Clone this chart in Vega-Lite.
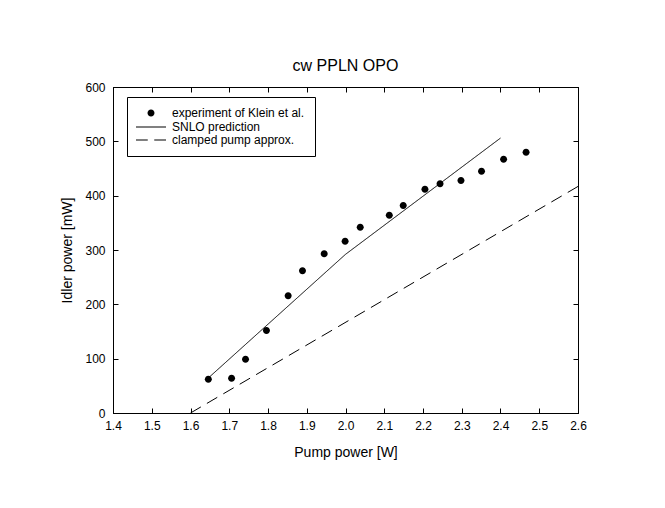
{
  "$schema": "https://vega.github.io/schema/vega-lite/v6.json",
  "width": 465,
  "height": 326,
  "autosize": "none",
  "padding": {"left": 113, "top": 87, "right": 87, "bottom": 95},
  "background": "white",
  "title": {"text": "cw PPLN OPO", "fontSize": 16, "font": "Liberation Sans", "fontWeight": "normal", "color": "black", "offset": 7, "anchor": "middle"},
  "config": {
    "view": {"stroke": "black", "strokeWidth": 1},
    "axis": {"domainColor": "black", "tickColor": "black", "labelColor": "black", "titleColor": "black", "labelFont": "Liberation Sans", "titleFont": "Liberation Sans", "labelFontSize": 12, "titleFontSize": 14, "titleFontWeight": "normal", "grid": false, "tickSize": -5, "labelFlush": false, "labelOverlap": false}
  },
  "data": {"values": [
    {"series": "experiment of Klein et al.", "pump": 1.646, "idler": 62},
    {"series": "experiment of Klein et al.", "pump": 1.706, "idler": 64},
    {"series": "experiment of Klein et al.", "pump": 1.742, "idler": 99},
    {"series": "experiment of Klein et al.", "pump": 1.796, "idler": 152},
    {"series": "experiment of Klein et al.", "pump": 1.852, "idler": 216},
    {"series": "experiment of Klein et al.", "pump": 1.889, "idler": 262},
    {"series": "experiment of Klein et al.", "pump": 1.945, "idler": 293},
    {"series": "experiment of Klein et al.", "pump": 1.999, "idler": 316},
    {"series": "experiment of Klein et al.", "pump": 2.038, "idler": 342},
    {"series": "experiment of Klein et al.", "pump": 2.113, "idler": 364},
    {"series": "experiment of Klein et al.", "pump": 2.149, "idler": 382},
    {"series": "experiment of Klein et al.", "pump": 2.205, "idler": 412},
    {"series": "experiment of Klein et al.", "pump": 2.244, "idler": 422},
    {"series": "experiment of Klein et al.", "pump": 2.298, "idler": 428},
    {"series": "experiment of Klein et al.", "pump": 2.351, "idler": 445},
    {"series": "experiment of Klein et al.", "pump": 2.408, "idler": 467},
    {"series": "experiment of Klein et al.", "pump": 2.466, "idler": 480},
    {"series": "SNLO prediction", "pump": 1.65, "idler": 67},
    {"series": "SNLO prediction", "pump": 2.0, "idler": 292},
    {"series": "SNLO prediction", "pump": 2.4, "idler": 506},
    {"series": "clamped pump approx.", "pump": 1.6, "idler": 0},
    {"series": "clamped pump approx.", "pump": 2.6, "idler": 417}
  ]},
  "layer": [
    {
      "transform": [{"filter": "datum.series === 'experiment of Klein et al.'"}],
      "mark": {"type": "point", "filled": true, "size": 100, "opacity": 1, "color": "black"},
      "encoding": {
        "x": {"field": "pump", "type": "quantitative", "scale": {"domain": [1.4, 2.6], "nice": false},
              "axis": {"orient": "bottom", "title": "Pump power [W]", "values": [1.4, 1.5, 1.6, 1.7, 1.8, 1.9, 2.0, 2.1, 2.2, 2.3, 2.4, 2.5, 2.6], "format": ".1f", "labelPadding": 12, "titlePadding": 14}},
        "y": {"field": "idler", "type": "quantitative", "scale": {"domain": [0, 600], "nice": false},
              "axis": {"orient": "left", "title": "Idler power [mW]", "values": [0, 100, 200, 300, 400, 500, 600], "labelPadding": 13, "titlePadding": 10}},
        "shape": {"field": "series", "type": "nominal",
                  "scale": {"domain": ["experiment of Klein et al.", "SNLO prediction", "clamped pump approx."],
                            "range": ["M-0.7,0A0.7,0.7,0,1,0,0.7,0A0.7,0.7,0,1,0,-0.7,0Z", "M-3,-0.1H3V0.1H-3Z", "M-3,-0.1H-0.65V0.1H-3ZM0.65,-0.1H3V0.1H0.65Z"]},
                  "legend": {
                    "title": null, "orient": "none", "legendX": 14, "legendY": 10,
                    "strokeColor": "black", "fillColor": "white", "padding": 10, "cornerRadius": 0,
                    "labelFont": "Liberation Sans", "labelFontSize": 12, "labelColor": "black", "labelOffset": 15,
                    "symbolOffset": 8,
                    "rowPadding": 1, "symbolSize": 100, "symbolFillColor": "black", "symbolOpacity": 1
                  }}
      }
    },
    {
      "transform": [{"filter": "datum.series !== 'experiment of Klein et al.'"}],
      "mark": {"type": "line", "strokeWidth": 1, "color": "black"},
      "encoding": {
        "x": {"field": "pump", "type": "quantitative",
              "axis": {"orient": "top", "labels": false, "title": null, "values": [1.4, 1.5, 1.6, 1.7, 1.8, 1.9, 2.0, 2.1, 2.2, 2.3, 2.4, 2.5, 2.6]}},
        "y": {"field": "idler", "type": "quantitative",
              "axis": {"orient": "right", "labels": false, "title": null, "values": [0, 100, 200, 300, 400, 500, 600]}},
        "strokeDash": {"field": "series", "type": "nominal",
                       "scale": {"domain": ["SNLO prediction", "clamped pump approx."], "range": [[1, 0], [12, 7]]},
                       "legend": null}
      }
    }
  ],
  "resolve": {"axis": {"x": "independent", "y": "independent"}}
}
